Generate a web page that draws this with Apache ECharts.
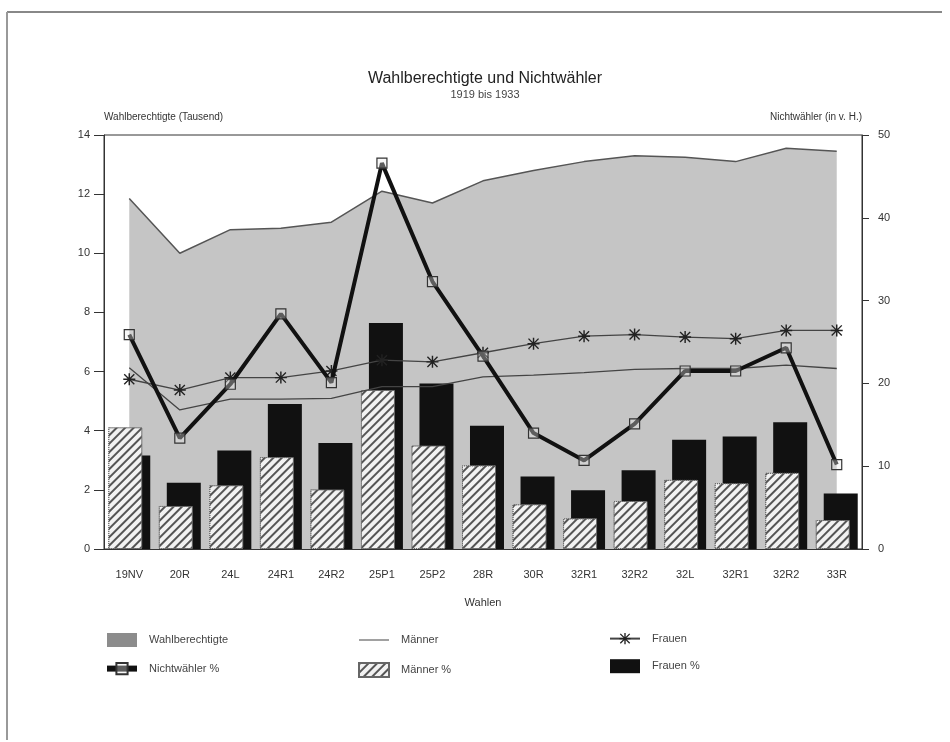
<!DOCTYPE html>
<html>
<head>
<meta charset="utf-8">
<title>Wahlberechtigte und Nichtwähler</title>
<script src="https://cdn.jsdelivr.net/npm/echarts@6/dist/echarts.min.js"></script>
<style>
  html, body { margin: 0; padding: 0; background: #fff; }
  #main { width: 950px; height: 742px; }
</style>
</head>
<body>
<div id="main"></div>
<script>
// Wahlen (Kategorien)
var wahlen = ['19NV', '20R', '24L', '24R1', '24R2', '25P1', '25P2', '28R', '30R', '32R1', '32R2', '32L', '32R1', '32R2', '33R'];
// Wahlberechtigte in Tausend (linke Achse)
var wahlberechtigte = [11.85, 10.0, 10.8, 10.85, 11.05, 12.1, 11.7, 12.45, 12.8, 13.1, 13.3, 13.25, 13.1, 13.55, 13.45];
// Nichtwähler in v. H. (rechte Achse)
var nichtwaehler = [25.9, 13.4, 19.9, 28.4, 20.1, 46.6, 32.3, 23.3, 14.0, 10.7, 15.1, 21.5, 21.5, 24.3, 10.2];
var maenner = [21.9, 16.8, 18.1, 18.1, 18.2, 19.6, 19.6, 20.8, 21.0, 21.3, 21.7, 21.8, 21.8, 22.2, 21.8];
var frauen = [20.5, 19.2, 20.7, 20.7, 21.5, 22.8, 22.6, 23.7, 24.8, 25.7, 25.9, 25.6, 25.4, 26.4, 26.4];
var maennerProz = [14.7, 5.2, 7.7, 11.1, 7.2, 19.2, 12.5, 10.1, 5.4, 3.7, 5.8, 8.35, 7.95, 9.2, 3.5];
var frauenProz = [11.3, 8.0, 11.9, 17.5, 12.8, 27.3, 20.0, 14.9, 8.75, 7.1, 9.5, 13.2, 13.6, 15.3, 6.7];

var schrift = 'Liberation Sans';
// Sternchen-Symbol fuer "Frauen"
var stern = 'path://M0,4.4L10,4.4L10,5.6L0,5.6Z M4.4,0L5.6,0L5.6,10L4.4,10Z M1.2,0.4L9.6,8.8L8.8,9.6L0.4,1.2Z M8.8,0.4L9.6,1.2L1.2,9.6L0.4,8.8Z';
// duenne Linie als Legendensymbol fuer "Männer"
var linie = 'path://M0,0L0.01,0L0.01,0.01Z M0,6.4L30,6.4L30,7.6L0,7.6Z M0,13.99L0.01,14L0,14Z';

var myChart = echarts.init(document.getElementById('main'));

var legendeText = { fontSize: 11, color: '#444', fontFamily: schrift, padding: [0, 0, 0, 7] };

var option = {
  backgroundColor: '#fff',
  textStyle: { fontFamily: schrift },
  title: {
    text: 'Wahlberechtigte und Nichtwähler',
    subtext: '1919 bis 1933',
    left: 480,
    textAlign: 'center',
    top: 66,
    itemGap: 2,
    textStyle: { fontSize: 16, fontWeight: 'normal', color: '#222', fontFamily: schrift },
    subtextStyle: { fontSize: 11, color: '#444', fontFamily: schrift }
  },
  graphic: [
    { type: 'line', shape: { x1: 7, y1: 12, x2: 942, y2: 12 }, style: { stroke: '#888', lineWidth: 2 } },
    { type: 'line', shape: { x1: 7, y1: 12, x2: 7, y2: 740 }, style: { stroke: '#999', lineWidth: 2 } }
  ],
  legend: [
    {
      orient: 'vertical', left: 99, top: 628, itemWidth: 30, itemHeight: 14, itemGap: 15,
      textStyle: legendeText,
      data: [
        { name: 'Wahlberechtigte', icon: 'rect', itemStyle: { color: '#8c8c8c' } },
        { name: 'Nichtwähler %', lineStyle: { width: 6, color: '#111' } }
      ]
    },
    {
      orient: 'vertical', left: 353, top: 628, itemWidth: 30, itemHeight: 14, itemGap: 15,
      textStyle: legendeText,
      data: [
        { name: 'Männer', icon: linie, itemStyle: { color: '#444' } },
        { name: 'Männer %', icon: 'rect' }
      ]
    },
    {
      orient: 'vertical', left: 604, top: 628, itemWidth: 30, itemHeight: 14, itemGap: 15,
      textStyle: legendeText,
      data: [
        'Frauen',
        { name: 'Frauen %', icon: 'rect' }
      ]
    }
  ],
  grid: {
    left: 104, right: 88, top: 135, bottom: 193,
    show: true, borderColor: '#333', borderWidth: 1, backgroundColor: 'transparent'
  },
  xAxis: [
    {
      type: 'category',
      data: wahlen,
      boundaryGap: true,
      name: 'Wahlen',
      nameLocation: 'middle',
      nameGap: 48,
      nameTextStyle: { fontSize: 11, color: '#333' },
      axisLine: { lineStyle: { color: '#333', width: 1 } },
      axisTick: { alignWithLabel: true, length: 9, lineStyle: { color: '#333' } },
      axisLabel: { fontSize: 11, color: '#333', margin: 20, interval: 0 }
    },
    {
      type: 'category',
      data: wahlen,
      boundaryGap: true,
      position: 'bottom',
      axisLine: { show: false },
      axisTick: { inside: true, alignWithLabel: true, length: 9, lineStyle: { color: '#333' } },
      axisLabel: { show: false }
    }
  ],
  yAxis: [
    {
      type: 'value',
      min: 0, max: 14, interval: 2,
      name: 'Wahlberechtigte (Tausend)',
      nameLocation: 'end',
      nameGap: 13,
      nameTextStyle: { align: 'left', fontSize: 10, color: '#333' },
      axisLine: { show: true, lineStyle: { color: '#333' } },
      axisTick: { show: true, length: 10, lineStyle: { color: '#333' } },
      axisLabel: { fontSize: 11, color: '#333', margin: 14 },
      splitLine: { show: false }
    },
    {
      type: 'value',
      min: 0, max: 50, interval: 10,
      position: 'right',
      name: 'Nichtwähler (in v. H.)',
      nameLocation: 'end',
      nameGap: 13,
      nameTextStyle: { align: 'right', fontSize: 10, color: '#333' },
      axisLine: { show: true, lineStyle: { color: '#333' } },
      axisTick: { show: true, length: 7, lineStyle: { color: '#333' } },
      axisLabel: { fontSize: 11, color: '#333', margin: 16 },
      splitLine: { show: false }
    }
  ],
  series: [
    {
      name: 'Wahlberechtigte',
      type: 'line',
      yAxisIndex: 0,
      data: wahlberechtigte,
      symbol: 'none',
      z: 1,
      lineStyle: { color: '#555', width: 1.5 },
      itemStyle: { color: '#8c8c8c' },
      areaStyle: { color: '#c5c5c5', opacity: 1 }
    },
    {
      name: 'Männer %',
      type: 'bar',
      yAxisIndex: 1,
      data: maennerProz,
      barWidth: 34,
      barGap: '-76.5%',
      z: 4,
      itemStyle: {
        color: '#f2f2f2',
        borderColor: '#666',
        borderWidth: 1,
        borderType: 'dotted',
        decal: {
          symbol: 'rect',
          color: '#555',
          dashArrayX: [1, 0],
          dashArrayY: [1.4, 4],
          rotation: -Math.PI / 4
        }
      }
    },
    {
      name: 'Frauen %',
      type: 'bar',
      yAxisIndex: 1,
      data: frauenProz,
      barWidth: 34,
      z: 3,
      itemStyle: { color: '#111' }
    },
    {
      name: 'Männer',
      type: 'line',
      yAxisIndex: 1,
      data: maenner,
      symbol: 'none',
      z: 5,
      lineStyle: { color: '#444', width: 1.3 },
      itemStyle: { color: '#444' }
    },
    {
      name: 'Frauen',
      type: 'line',
      yAxisIndex: 1,
      data: frauen,
      symbol: stern,
      symbolSize: 12,
      z: 5,
      lineStyle: { color: '#444', width: 1.3 },
      itemStyle: { color: '#222' }
    },
    {
      name: 'Nichtwähler %',
      type: 'line',
      yAxisIndex: 1,
      data: nichtwaehler,
      symbol: 'rect',
      symbolSize: 10,
      z: 6,
      lineStyle: { color: '#111', width: 4 },
      itemStyle: { color: 'rgba(235,235,235,0.35)', borderColor: '#333', borderWidth: 1.2 }
    }
  ]
};

myChart.setOption(option);
</script>
</body>
</html>
